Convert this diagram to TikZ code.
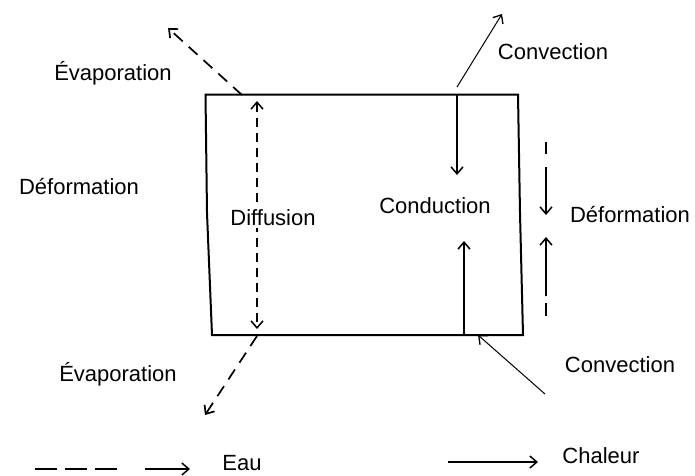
\documentclass[tikz,border=0pt]{standalone}
\usepackage{fontspec}
\setmainfont{Liberation Sans}
\usetikzlibrary{arrows.meta}
\tikzset{
  lbl/.style={inner sep=0pt, font=\fontsize{22}{24}\selectfont},
  boxline/.style={line width=2pt, line join=miter},
  heat/.style={line width=1.5pt, -{Straight Barb[length=7pt,width=12pt,line width=1.5pt]}},
  thin heat/.style={line width=1pt, -{Straight Barb[length=7pt,width=12pt,line width=1.3pt]}},
  water/.style={line width=1.7pt, dash pattern=on 12pt off 8pt, -{Straight Barb[length=7pt,width=12pt,line width=1.7pt]}},
  wdiff/.style={line width=1.5pt, dash pattern=on 9pt off 6pt, {Straight Barb[length=7pt,width=12pt,line width=1.5pt]}-{Straight Barb[length=7pt,width=12pt,line width=1.5pt]}},
}
\begin{document}
\begin{tikzpicture}[x=1pt,y=-1pt]
\useasboundingbox (0,0) rectangle (695,475);
% box
\coordinate (tl) at (205.5,94.5);
\coordinate (tr) at (518,94.5);
\coordinate (rm) at (520,213);
\coordinate (br) at (523,335);
\coordinate (bl) at (212,335);
\coordinate (lm) at (207,213);
\draw[boxline] (tl) -- (tr) -- (rm) -- (br) -- (bl) -- (lm) -- cycle;

% diffusion
\coordinate (dt) at (257,101);
\coordinate (db) at (257,329);
\draw[wdiff] (dt) -- (db);
\node[lbl, fill=white, inner sep=2pt] (diff) at (273,218) {Diffusion};

% conduction
\coordinate (c1a) at (457,94.5);
\coordinate (c1b) at (457,175);
\draw[heat] (c1a) -- (c1b);
\coordinate (c2a) at (464,335);
\coordinate (c2b) at (464,241);
\draw[heat] (c2a) -- (c2b);
\node[lbl] (cond) at (435,206) {Conduction};

% convection top
\coordinate (cv1a) at (457,87);
\coordinate (cv1b) at (502,14);
\draw[thin heat] (cv1a) -- (cv1b);
\node[lbl] (conv1) at (553,52) {Convection};

% convection bottom
\coordinate (cv2a) at (545,394);
\coordinate (cv2b) at (478,335);
\draw[thin heat] (cv2a) -- (cv2b);
\node[lbl] (conv2) at (620,365) {Convection};

% evaporation top
\coordinate (e1a) at (242,95);
\coordinate (e1b) at (168,28);
\draw[water] (e1a) -- (e1b);
\node[lbl] (evap1) at (113,73) {Évaporation};

% evaporation bottom
\coordinate (e2a) at (257,336);
\coordinate (e2b) at (205,415);
\draw[water] (e2a) -- (e2b);
\node[lbl] (evap2) at (118,374) {Évaporation};

% deformation
\node[lbl] (def1) at (79,186) {Déformation};
\node[lbl] (def2) at (630,214) {Déformation};
\coordinate (d1a) at (546,142);
\coordinate (d1b) at (546,154);
\draw[line width=1.5pt] (d1a) -- (d1b);
\coordinate (d2a) at (546,167);
\coordinate (d2b) at (546,215);
\draw[heat] (d2a) -- (d2b);
\coordinate (d3a) at (546,296);
\coordinate (d3b) at (546,237);
\draw[heat] (d3a) -- (d3b);
\coordinate (d4a) at (546,303);
\coordinate (d4b) at (546,316);
\draw[line width=1.5pt] (d4a) -- (d4b);

% legend
\coordinate (l1a) at (35,469);
\coordinate (l1b) at (117,469);
\draw[line width=1.7pt, dash pattern=on 22pt off 8pt] (l1a) -- (l1b);
\coordinate (l2a) at (145,469);
\coordinate (l2b) at (190,469);
\draw[heat] (l2a) -- (l2b);
\node[lbl] (eau) at (242,463) {Eau};
\coordinate (l3a) at (448,462);
\coordinate (l3b) at (538,462);
\draw[heat] (l3a) -- (l3b);
\node[lbl] (chal) at (601,456) {Chaleur};
\end{tikzpicture}
\end{document}
